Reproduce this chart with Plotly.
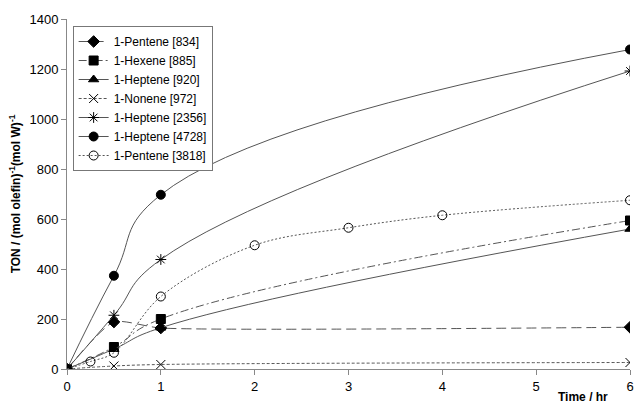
import plotly.graph_objects as go

names = ["1-Pentene [834]", "1-Hexene [885]", "1-Heptene [920]", "1-Nonene [972]",
         "1-Heptene [2356]", "1-Heptene [4728]", "1-Pentene [3818]"]
t_std = [0, 0.5, 1, 6]
pent834 = [0, 188, 164, 167]
hex885 = [0, 88, 200, 594]
hept920 = [0, 80, 165, 560]
non972 = [0, 12, 18, 26]
hept2356 = [0, 215, 438, 1192]
hept4728 = [0, 373, 697, 1278]
t_3818 = [0, 0.25, 0.5, 1, 2, 3, 4, 6]
pent3818 = [0, 30, 65, 290, 495, 565, 615, 675]

series = [
    (t_std, pent834, "diamond", "10px,5px", 0.6),
    (t_std, hex885, "square", "8px,3px,2px,3px", 1.3),
    (t_std, hept920, "triangle-up", "solid", 1.3),
    (t_std, non972, "x-thin-open", "3px,2px", 1.0),
    (t_std, hept2356, "asterisk-open", "solid", 1.3),
    (t_std, hept4728, "circle", "solid", 1.3),
    (t_3818, pent3818, "circle-open", "2px,2px", 1.0),
]

fig = go.Figure()
for i, (xs, ys, sym, d, sm) in enumerate(series):
    fig.add_trace(go.Scatter(
        x=xs, y=ys, name=names[i], mode="lines+markers",
        line=dict(color="#555555", width=1, dash=d, shape="spline", smoothing=sm),
        marker=dict(symbol=sym, size=9, color="black",
                    line=dict(color="black", width=1)),
    ))

fig.update_layout(
    width=642, height=410,
    margin=dict(l=67, r=8, t=19, b=41),
    paper_bgcolor="white", plot_bgcolor="white",
    font=dict(family="Arial, Liberation Sans, sans-serif", size=12, color="black"),
    showlegend=True,
    legend=dict(x=0.01, y=0.98, xanchor="left", yanchor="top",
                bgcolor="white", bordercolor="#777777", borderwidth=1,
                font=dict(size=12), tracegroupgap=0, itemwidth=30),
    xaxis=dict(range=[0, 6], tickvals=[0, 1, 2, 3, 4, 5, 6], showgrid=False, zeroline=False,
               showline=True, linecolor="#888888", linewidth=1, ticks="outside",
               tickcolor="#888888", ticklen=5, tickfont=dict(size=13)),
    yaxis=dict(range=[0, 1400], tickvals=list(range(0, 1401, 200)), showgrid=False, zeroline=False,
               showline=True, linecolor="#888888", linewidth=1, ticks="outside",
               tickcolor="#888888", ticklen=5, tickfont=dict(size=13),
               title=dict(text="<b>TON / (mol olefin)<sup>-1</sup>(mol W)<sup>-1</sup></b>",
                          font=dict(size=12), standoff=6)),
    annotations=[dict(text="<b>Time / hr</b>", xref="paper", yref="paper", x=0.965, y=-0.105,
                      xanchor="right", yanchor="bottom", showarrow=False, font=dict(size=12))],
)
fig.write_html("out.html")
